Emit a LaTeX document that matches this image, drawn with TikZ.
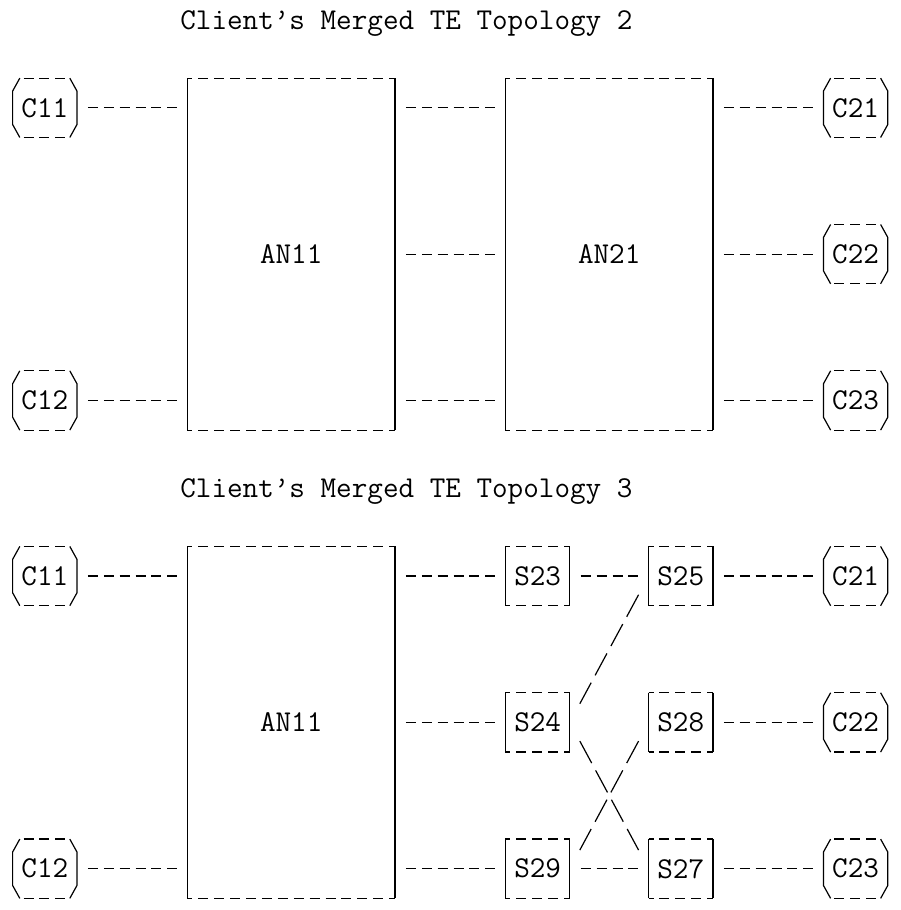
\documentclass[tikz,border=0pt]{standalone}
\usepackage{fontspec}
\def\squarebox#1{%
	\draw[vbar] (#1.north west) -- (#1.south west) (#1.north east) -- (#1.south east);
	\draw[hbar] (#1.north west) -- (#1.north east) (#1.south west) -- (#1.south east);}
\def\clientbox#1{%
	\draw[vbar] ([xshift=3.6pt]#1.north west) -- ([yshift=-6.5pt]#1.north west) -- ([yshift=6.5pt]#1.south west) -- ([xshift=3.6pt]#1.south west);
	\draw[vbar] ([xshift=-3.6pt]#1.north east) -- ([yshift=-6.5pt]#1.north east) -- ([yshift=6.5pt]#1.south east) -- ([xshift=-3.6pt]#1.south east);
	\draw[hyph] ([xshift=5.45pt]#1.north west) -- ([xshift=-5.45pt]#1.north east) ([xshift=5.45pt]#1.south west) -- ([xshift=-5.45pt]#1.south east);}

\begin{document}
\begin{tikzpicture}[x=7.95pt, y=-14.635pt, font=\ttfamily\fontsize{15.14pt}{17pt}\selectfont,
	cbox/.style={inner sep=0pt, minimum width=31.8pt, minimum height=29.27pt},
	sbox/.style={inner sep=0pt, minimum width=31.8pt, minimum height=29.27pt},
	anbox/.style={inner sep=0pt, minimum width=103.35pt, minimum height=175.62pt},
	heading/.style={inner sep=0pt, anchor=base west},
	vbar/.style={line width=0.6pt},
	hbar/.style={line width=0.6pt, dash pattern=on 5pt off 2.95pt, dash phase=2.5pt},
	hyph/.style={line width=0.6pt, dash pattern=on 5pt off 2.95pt},
	link/.style={line width=0.6pt, dash pattern=on 5pt off 2.95pt, dash phase=5pt, shorten <=2.5pt, shorten >=2.5pt},
	slash/.style={line width=0.6pt, dash pattern=on 12.5pt off 4.155pt, shorten <=-6.25pt, shorten >=-6.25pt}]
	\useasboundingbox (-0.818,-0.683) rectangle (55.85,30.41);
	
	%%%%% TOPOLOGY 2 %%%%%
	\node[heading] (title2) at (10.5, 0.31) {Client’s Merged TE Topology 2};
	
	\node[cbox] (t2c11) at (2, 3) {C11};
	\node[cbox] (t2c12) at (2, 13) {C12};
	\node[anbox] (t2an11) at (17.5, 8) {AN11};
	\node[anbox] (t2an21) at (37.5, 8) {AN21};
	\node[cbox] (t2c21) at (53, 3) {C21};
	\node[cbox] (t2c22) at (53, 8) {C22};
	\node[cbox] (t2c23) at (53, 13) {C23};
	
	\draw[link] (t2c11) -- (t2c11 -| t2an11.west);
	\draw[link] (t2c12) -- (t2c12 -| t2an11.west);
	\draw[link] (t2an11.east |- t2c21) -- (t2an21.west |- t2c21);
	\draw[link] (t2an11.east |- t2c22) -- (t2an21.west |- t2c22);
	\draw[link] (t2an11.east |- t2c23) -- (t2an21.west |- t2c23);
	\draw[link] (t2an21.east |- t2c21) -- (t2c21);
	\draw[link] (t2an21.east |- t2c22) -- (t2c22);
	\draw[link] (t2an21.east |- t2c23) -- (t2c23);
	
	%%%%% TOPOLOGY 3 %%%%%
	\node[heading] (title3) at (10.5, 16.31) {Client’s Merged TE Topology 3};
	
	\node[cbox] (t3c11) at (2, 19) {C11};
	\node[cbox] (t3c12) at (2, 29) {C12};
	\node[anbox] (t3an11) at (17.5, 24) {AN11};
	\node[sbox] (t3s23) at (33, 19) {S23};
	\node[sbox] (t3s24) at (33, 24) {S24};
	\node[sbox] (t3s29) at (33, 29) {S29};
	\node[sbox] (t3s25) at (42, 19) {S25};
	\node[sbox] (t3s28) at (42, 24) {S28};
	\node[sbox] (t3s27) at (42, 29) {S27};
	\node[cbox] (t3c21) at (53, 19) {C21};
	\node[cbox] (t3c22) at (53, 24) {C22};
	\node[cbox] (t3c23) at (53, 29) {C23};
	
	\draw[link] (t3c11) -- (t3c11 -| t3an11.west);
	\draw[link] (t3c12) -- (t3c12 -| t3an11.west);
	\draw[link] (t3an11.east |- t3s23) -- (t3s23);
	\draw[link] (t3an11.east |- t3s24) -- (t3s24);
	\draw[link] (t3an11.east |- t3s29) -- (t3s29);
	\draw[link] (t3s23) -- (t3s25);
	\draw[link] (t3s29) -- (t3s27);
	\draw[link] (t3s25) -- (t3c21);
	\draw[link] (t3s28) -- (t3c22);
	\draw[link] (t3s27) -- (t3c23);
	
	\draw[slash] ([xshift=-7.95pt]t3s25.south west) -- ([xshift=7.95pt]t3s24.north east);
	\draw[slash] ([xshift=7.95pt]t3s24.south east) -- ([xshift=-7.95pt]t3s27.north west);
	\draw[slash] ([xshift=-7.95pt]t3s28.south west) -- ([xshift=7.95pt]t3s29.north east);
	
	% outlines
	\foreach \n in {t2an11,t2an21,t3an11,t3s23,t3s24,t3s29,t3s25,t3s28,t3s27}
		{\squarebox{\n}}
	\foreach \n in {t2c11,t2c12,t2c21,t2c22,t2c23,t3c11,t3c12,t3c21,t3c22,t3c23}
		{\clientbox{\n}}
\end{tikzpicture}
\end{document}
